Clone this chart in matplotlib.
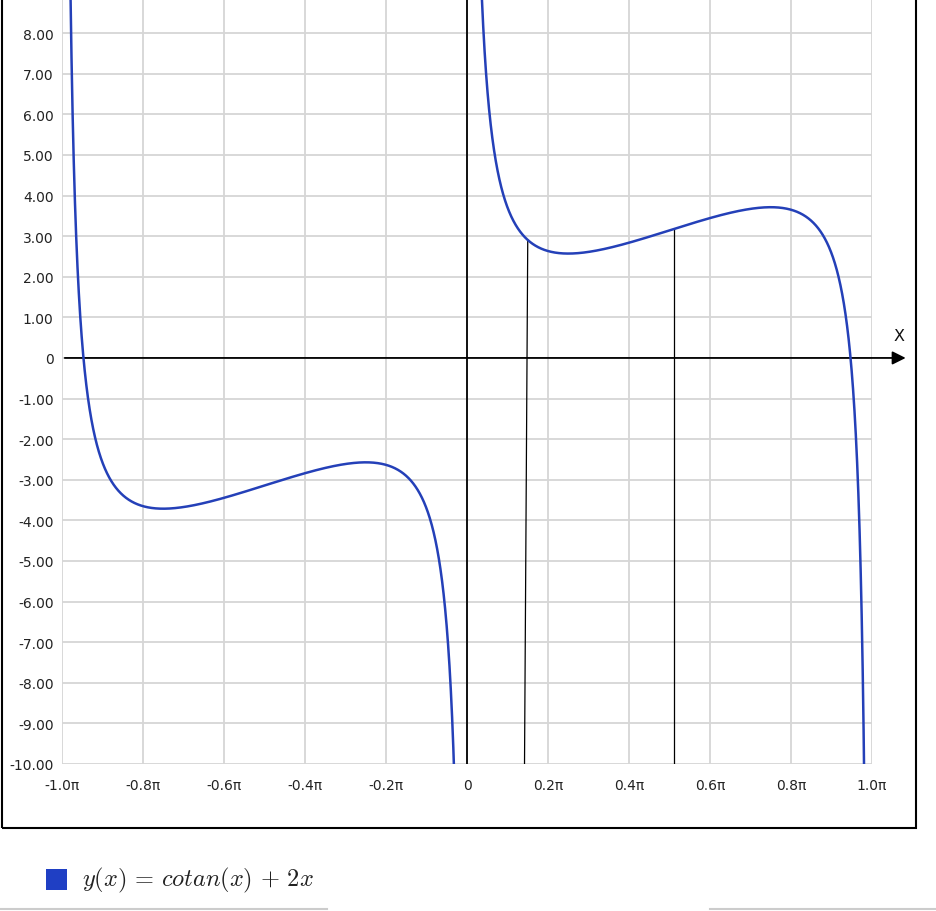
import numpy as np
import matplotlib
matplotlib.use("Agg")
import matplotlib.pyplot as plt
from matplotlib.lines import Line2D
from matplotlib.patches import Rectangle

# data
x_ticks_pi = [-1.0, -0.8, -0.6, -0.4, -0.2, 0.0, 0.2, 0.4, 0.6, 0.8, 1.0]
x_tick_labels = ["-1.0π", "-0.8π", "-0.6π", "-0.4π", "-0.2π", "0", "0.2π", "0.4π", "0.6π", "0.8π", "1.0π"]
y_ticks = list(range(-10, 9))
y_tick_labels = ["0" if v == 0 else "%.2f" % v for v in y_ticks]
# stray vertical marker lines (top x, bottom x) in units of pi
marker_top_pi = [0.150, 0.511]
marker_bot_pi = [0.142, 0.511]
legend_label = r"$y(x)\,=\,cotan(x)\,+\,2x$"

curve_color = "#2440b8"

fig = plt.figure(figsize=(9.36, 9.12), dpi=100)
W, H = 936.0, 912.0
ax = fig.add_axes([62 / W, (H - 765) / H, (872 - 62) / W, 765 / H])

def f(x):
    return 1.0 / np.tan(x) + 2 * x

# two branches of the curve, split at the asymptote x=0
for lo, hi in [(-np.pi, 0.0), (0.0, np.pi)]:
    xs = np.linspace(lo, hi, 4000)[1:-1]
    ys = f(xs)
    ys[(ys > 20) | (ys < -20)] = np.nan
    ax.plot(xs, ys, color=curve_color, lw=1.8, zorder=4, solid_capstyle="butt")

# marker lines from curve down to bottom
for xt, xb in zip(marker_top_pi, marker_bot_pi):
    ax.plot([xt * np.pi, xb * np.pi], [f(xt * np.pi), -10], color="black", lw=0.9, zorder=3)

ax.set_xlim(-np.pi, np.pi)
ax.set_ylim(-10, 8.84)
ax.set_xticks([t * np.pi for t in x_ticks_pi])
ax.set_xticklabels(x_tick_labels)
ax.set_yticks(y_ticks)
ax.set_yticklabels(y_tick_labels)
ax.tick_params(length=0, labelsize=10, colors="#222222", pad=6)
ax.tick_params(axis="x", pad=10)
ax.grid(True, color="#d6d6d6", lw=1.3)
ax.set_axisbelow(True)
for s in ax.spines.values():
    s.set_visible(False)

# axes lines
ax.axvline(0, color="black", lw=1.3, zorder=3)
ax.annotate("", xy=(1.09 * np.pi, 0), xytext=(-np.pi, 0),
            arrowprops=dict(arrowstyle="-|>", color="black", lw=1.3, mutation_scale=20),
            annotation_clip=False, zorder=3)
ax.text(1.066 * np.pi, 0.55, "X", fontsize=11.5, color="#111111", ha="center", va="center", clip_on=False)

# outer frame
fig.patches.append(Rectangle((2 / W, (H - 829) / H), (916 - 2) / W, 1.0, transform=fig.transFigure,
                             fill=False, edgecolor="black", lw=1.5))

# legend
fig.patches.append(Rectangle((46 / W, (H - 891) / H), 21 / W, 21 / H, transform=fig.transFigure,
                             facecolor="#1f3fc4", edgecolor="none"))
plt.rcParams["mathtext.fontset"] = "cm"
fig.text(82 / W, (H - 880) / H, legend_label, fontsize=17.5, color="#222222", va="center", ha="left")

# faint page lines at the bottom
fig.lines.append(Line2D([0, 327 / W], [(H - 910) / H] * 2, transform=fig.transFigure, color="#cccccc", lw=1.5))
fig.lines.append(Line2D([710 / W, 1.0], [(H - 910) / H] * 2, transform=fig.transFigure, color="#cccccc", lw=1.5))

fig.savefig("out.png", dpi=100)
